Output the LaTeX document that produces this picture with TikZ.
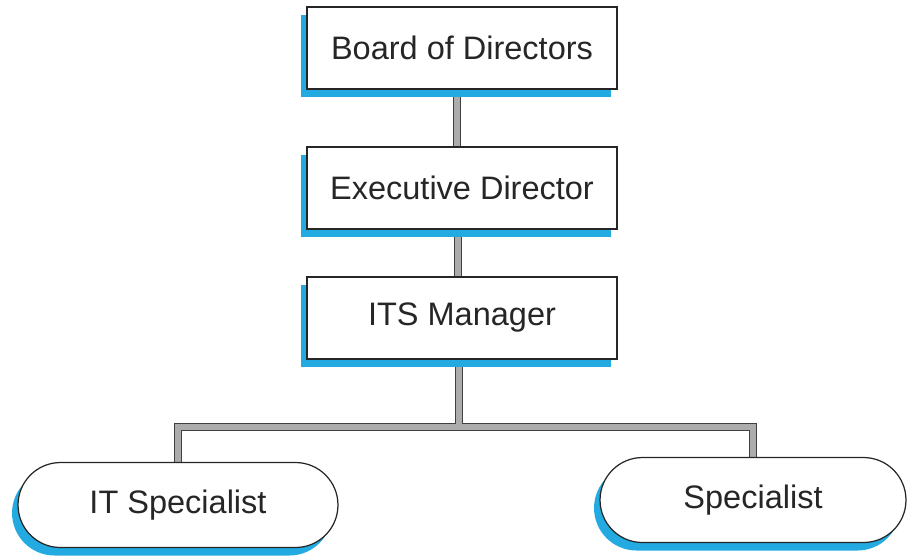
\documentclass[tikz,border=0pt]{standalone}
\usepackage{fontspec}
\setmainfont{Liberation Sans}
\usepackage{xcolor}
\usepackage{tikz}
\usetikzlibrary{positioning,shadows,backgrounds,calc}
\definecolor{shadowblue}{RGB}{35,170,225}

\begin{document}
\begin{tikzpicture}[x=0.02cm,y=-0.02cm,
	post/.style={draw=black!85,line width=0.7pt,fill=white,minimum width=6.2cm,minimum height=1.64cm,
		font=\fontsize{18.5}{22}\selectfont,text=black!85,
		drop shadow={shadow xshift=-0.12cm,shadow yshift=-0.16cm,fill=shadowblue,opacity=1}},
	pill/.style={post,rounded corners=0.85cm,minimum height=1.7cm},
	link/.style={line width=3.4pt,gray!65,preaction={draw,line width=5pt,black!75}}]
	\useasboundingbox (0,0) rectangle (908,556);
	\node[post] (board) at (462,48) {Board of Directors};
	\node[post] (exec) at (462,188) {Executive Director};
	\node[post] (its) at (462,318) {ITS Manager};
	\node[pill,minimum width=6.4cm] (itspec) at (178,505) {IT Specialist};
	\node[pill,minimum width=6.12cm] (spec) at (753,500) {Specialist};
	\coordinate (split) at (459,427);
	\begin{scope}[on background layer]
		\draw[link] ([xshift=-0.1cm]board.south) -- ([xshift=-0.1cm]exec.north);
		\draw[link] ([xshift=-0.08cm]exec.south) -- ([xshift=-0.08cm]its.north);
		\draw[link] (its.south -| split) -- (split) (itspec.north) |- (split) -| (spec.north);
	\end{scope}
\end{tikzpicture}
\end{document}
